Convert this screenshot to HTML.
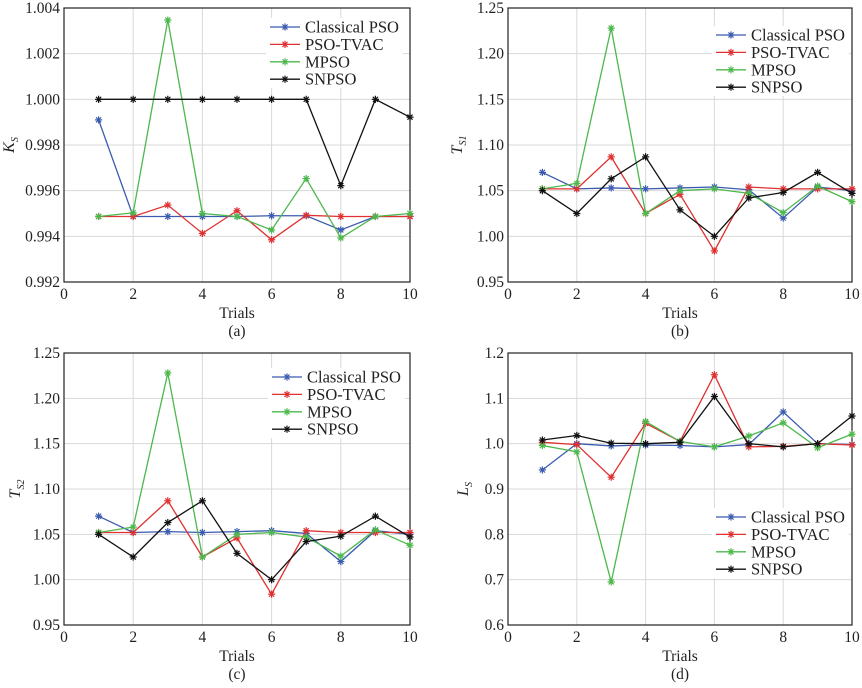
<!DOCTYPE html>
<html><head><meta charset="utf-8"><style>
body{margin:0;background:#fff;}
svg text{font-family:"Liberation Serif",serif;fill:#222;}
</style></head><body>
<svg id="fig" width="862" height="683" viewBox="0 0 862 683" xmlns="http://www.w3.org/2000/svg"></svg>
<script>
const trials=[1,2,3,4,5,6,7,8,9,10];
const seriesNames=["Classical PSO","PSO-TVAC","MPSO","SNPSO"];
const seriesColors=["#3a5bb0","#e03030","#4cb84c","#111111"];
// panel a: Ks
const aClassical=[0.9991,0.99487,0.99487,0.99487,0.99487,0.9949,0.9949,0.99428,0.99487,0.99487];
const aTvac=[0.99487,0.99487,0.99537,0.99413,0.99512,0.99385,0.99492,0.99487,0.99487,0.99487];
const aMpso=[0.99487,0.99503,1.00347,0.995,0.99487,0.99428,0.99653,0.99393,0.99487,0.995];
const aSnpso=[1,1,1,1,1,1,1,0.99622,1,0.99922];
const aTicks=["0.992","0.994","0.996","0.998","1.000","1.002","1.004"];
// panel b: Ts1
const bClassical=[1.070,1.052,1.053,1.052,1.053,1.054,1.051,1.020,1.054,1.050];
const bTvac=[1.052,1.052,1.087,1.025,1.046,0.984,1.054,1.052,1.052,1.052];
const bMpso=[1.052,1.058,1.228,1.025,1.050,1.052,1.047,1.026,1.055,1.038];
const bSnpso=[1.050,1.025,1.063,1.087,1.029,1.000,1.042,1.048,1.070,1.047];
const bTicks=["0.95","1.00","1.05","1.10","1.15","1.20","1.25"];
// panel c: Ts2
const cClassical=[1.070,1.052,1.053,1.052,1.053,1.054,1.051,1.020,1.054,1.050];
const cTvac=[1.052,1.052,1.087,1.025,1.046,0.984,1.054,1.052,1.052,1.052];
const cMpso=[1.052,1.058,1.228,1.025,1.050,1.052,1.047,1.026,1.055,1.038];
const cSnpso=[1.050,1.025,1.063,1.087,1.029,1.000,1.042,1.048,1.070,1.047];
const cTicks=["0.95","1.00","1.05","1.10","1.15","1.20","1.25"];
// panel d: Ls
const dClassical=[0.942,1.000,0.995,0.997,0.996,0.993,0.998,1.070,1.000,0.998];
const dTvac=[1.003,0.998,0.926,1.045,1.005,1.152,0.993,0.994,1.000,0.997];
const dMpso=[0.996,0.982,0.695,1.049,1.005,0.993,1.017,1.046,0.991,1.021];
const dSnpso=[1.008,1.018,1.001,1.000,1.003,1.104,1.000,0.993,1.000,1.061];
const dTicks=["0.6","0.7","0.8","0.9","1.0","1.1","1.2"];
const xTicks=[0,2,4,6,8,10];

const NS="http://www.w3.org/2000/svg";
const svg=document.getElementById('fig');
function mk(tag,attrs,parent){const e=document.createElementNS(NS,tag);for(const k in attrs)e.setAttribute(k,attrs[k]);(parent||svg).appendChild(e);return e;}
function star(g,x,y,c){
  const r=3.6;
  for(let k=0;k<4;k++){const a=k*Math.PI/4;
    mk('line',{x1:x-r*Math.cos(a),y1:y-r*Math.sin(a),x2:x+r*Math.cos(a),y2:y+r*Math.sin(a),stroke:c,'stroke-width':1.2},g);}
}
function panel(id,L,R,T,B,ticks,series,yl,sub,letter,ylx,legX,legY){
  const g=mk('g',{});
  
  
  const y0=parseFloat(ticks[0]),y1=parseFloat(ticks[ticks.length-1]);
  const sx=v=>L+(v-0)/(10-0)*(R-L);
  const sy=v=>B-(v-y0)/(y1-y0)*(B-T);
  ticks.forEach((t,i)=>{const y=sy(parseFloat(t));
    if(i>0&&i<ticks.length-1){const gl=mk('line',{x1:L,x2:R,y1:y,y2:y,stroke:'#d8d8d8','stroke-width':1},g);
      }
    const tx=mk('text',{x:L-4,y:y+5,'text-anchor':'end','font-size':15.5},g);tx.textContent=t;
    
  });
  xTicks.forEach((t,i)=>{const x=sx(t);
    if(i>0&&i<xTicks.length-1){const gl=mk('line',{x1:x,x2:x,y1:T,y2:B,stroke:'#d8d8d8','stroke-width':1},g);
      }
    const tx=mk('text',{x:x,y:B+17,'text-anchor':'middle','font-size':15.5},g);tx.textContent=t;
    
  });
  const fr=mk('rect',{x:L,y:T,width:R-L,height:B-T,fill:'none',stroke:'#222','stroke-width':1.2},g);
  
  const xt=mk('text',{x:(L+R)/2,y:B+36,'text-anchor':'middle','font-size':15.5},g);xt.textContent='Trials';
  
  const pl=mk('text',{x:(L+R)/2,y:B+54,'text-anchor':'middle','font-size':15.5},g);pl.textContent='('+letter+')';
  
  const cy=(T+B)/2;
  const yt=mk('text',{x:ylx,y:cy,'text-anchor':'middle','font-size':16,'font-style':'italic',transform:'rotate(-90 '+ylx+' '+cy+')'},g);
  
  yt.textContent=yl;
  const ts=mk('tspan',{'font-size':10,dy:4},yt);ts.textContent=sub;
  series.forEach((vals,si)=>{
    const sg=mk('g',{},g);
    
    
    const pts=vals.map((v,i)=>sx(trials[i])+','+sy(v)).join(' ');
    mk('polyline',{points:pts,fill:'none',stroke:seriesColors[si],'stroke-width':1.3},sg);
    vals.forEach((v,i)=>star(sg,sx(trials[i]),sy(v),seriesColors[si]));
  });
  const lg=mk('g',{},g);
  
  mk('rect',{x:legX-4,y:legY-9,width:137,height:70,fill:'#fff'},lg);
  seriesNames.forEach((n,i)=>{
    const y=legY+i*17.4;
    const e=mk('g',{},lg);
    
    mk('line',{x1:legX,x2:legX+30,y1:y,y2:y,stroke:seriesColors[i],'stroke-width':1.3},e);
    star(e,legX+15,y,seriesColors[i]);
    const t=mk('text',{x:legX+35,y:y+5.5,'font-size':16.5},e);t.textContent=n;
  });
}
panel('a',64,410,8,282,aTicks,[aClassical,aTvac,aMpso,aSnpso],'K','S','a',14,270,27);
panel('b',508,852,8,282,bTicks,[bClassical,bTvac,bMpso,bSnpso],'T','S1','b',462,716,35);
panel('c',64,410,353,625,cTicks,[cClassical,cTvac,cMpso,cSnpso],'T','S2','c',20,272,377);
panel('d',508,852,353,625,dTicks,[dClassical,dTvac,dMpso,dSnpso],'L','S','d',468,716,517);
</script>
</body></html>
